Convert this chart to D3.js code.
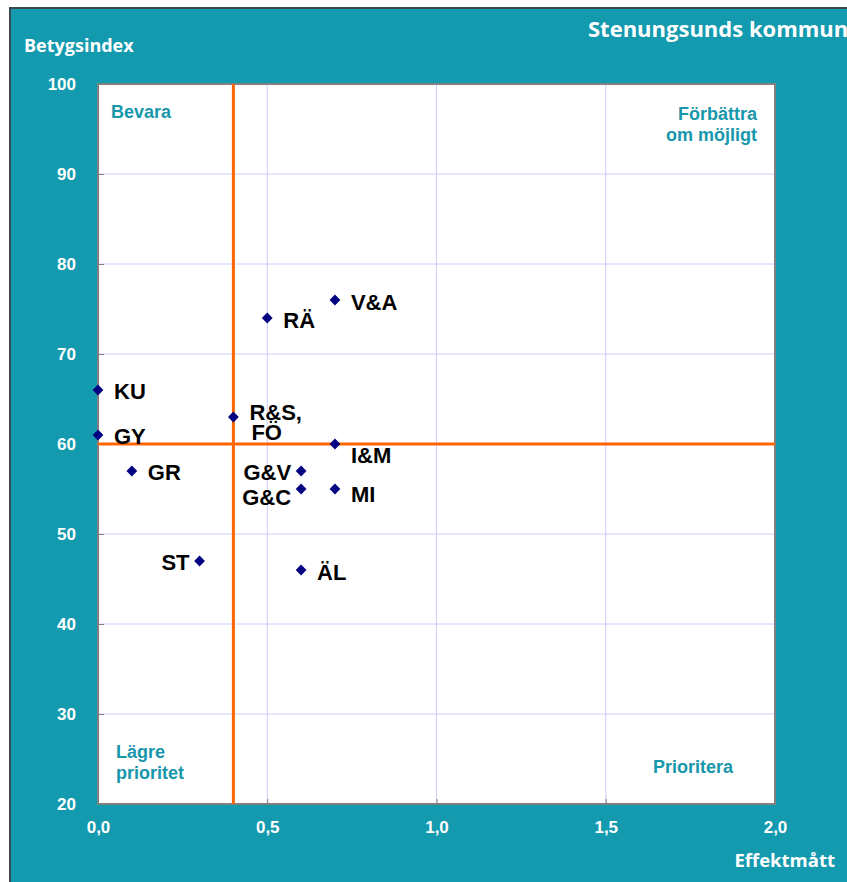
<!DOCTYPE html>
<html>
<head>
<meta charset="utf-8">
<script src="https://cdn.jsdelivr.net/npm/d3@7"></script>
<style>
  body { margin: 0; background: #fff; }
  svg { display: block; }
</style>
</head>
<body>
<div id="graph"></div>
<script>
// data
var labels  = ["KU", "GY", "GR", "ST", "R&S,|FÖ", "RÄ", "V&A", "I&M", "G&V", "G&C", "MI", "ÄL"];
var effekt  = [0.0, 0.0, 0.1, 0.3, 0.4, 0.5, 0.7, 0.7, 0.6, 0.6, 0.7, 0.6];
var betyg   = [66, 61, 57, 47, 63, 74, 76, 60, 57, 55, 55, 46];
// label placement relative to point: side (r/l) and vertical shift in px
var labelSide = ["r", "r", "r", "l", "r", "r", "r", "r", "l", "l", "r", "r"];
var labelDy   = [1, 1, 1, 1, -5, 2, 2, 11, 1, 8, 5, 2];

var xTicks = [0, 0.5, 1.0, 1.5, 2.0];
var yTicks = [20, 30, 40, 50, 60, 70, 80, 90, 100];
var splitX = 0.4, splitY = 60;

var w = 847, h = 882;
var teal = "#139aaf";
var plot = {left: 98, top: 84, right: 775, bottom: 804};

var svg = d3.select("div#graph").append("svg")
	.attr("width", w)
	.attr("height", h);

// outer teal panel
svg.append("rect")
	.attr("x", 10).attr("y", 8)
	.attr("width", w + 20).attr("height", h + 20)
	.attr("fill", teal)
	.style("stroke", "#3a4a4e")
	.style("stroke-width", "2px");

var x = d3.scaleLinear().domain([0, 2]).range([plot.left, plot.right]);
var y = d3.scaleLinear().domain([20, 100]).range([plot.bottom, plot.top]);

// plot background
svg.append("rect")
	.attr("x", plot.left).attr("y", plot.top)
	.attr("width", plot.right - plot.left).attr("height", plot.bottom - plot.top)
	.attr("fill", "#fff");

// grid lines
svg.append("g")
	.selectAll("line.hgrid")
	.data(yTicks.slice(1, -1)).enter().append("line")
	.attr("class", "hgrid")
	.attr("x1", plot.left).attr("x2", plot.right)
	.attr("y1", function(d) { return y(d); }).attr("y2", function(d) { return y(d); })
	.style("stroke", "#ccccff").style("stroke-width", "1px");
svg.append("g")
	.selectAll("line.vgrid")
	.data(xTicks.slice(1, -1)).enter().append("line")
	.attr("class", "vgrid")
	.attr("y1", plot.top).attr("y2", plot.bottom)
	.attr("x1", function(d) { return x(d); }).attr("x2", function(d) { return x(d); })
	.style("stroke", "#ccccff").style("stroke-width", "1px");

// axes (ticks inside, labels styled later)
var fmt = function(d) { return d3.format(".1f")(d).replace(".", ","); };
var yAxis = svg.append("g")
	.attr("transform", "translate(" + plot.left + ",0)")
	.call(d3.axisLeft(y).tickValues(yTicks).tickSize(-6).tickPadding(22));
var xAxis = svg.append("g")
	.attr("transform", "translate(0," + plot.bottom + ")")
	.call(d3.axisBottom(x).tickValues(xTicks).tickFormat(fmt).tickSize(-5).tickPadding(17));
[xAxis, yAxis].forEach(function(a) {
	a.select(".domain").remove();
	a.selectAll("line").style("stroke", "#808080");
	a.selectAll("text")
		.attr("fill", "#fff")
		.style("font-family", "'Liberation Sans', Arial, sans-serif")
		.style("font-weight", "bold")
		.style("font-size", "17px");
});
yAxis.selectAll("text").attr("dy", "0.35em");

// plot border
svg.append("rect")
	.attr("x", plot.left).attr("y", plot.top)
	.attr("width", plot.right - plot.left).attr("height", plot.bottom - plot.top)
	.attr("fill", "none")
	.style("stroke", "#808080").style("stroke-width", "2px");

// split lines
svg.append("line")
	.attr("x1", x(splitX)).attr("x2", x(splitX))
	.attr("y1", plot.top).attr("y2", plot.bottom)
	.style("stroke", "#ff6600").style("stroke-width", "3px");
svg.append("line")
	.attr("x1", plot.left).attr("x2", plot.right)
	.attr("y1", y(splitY)).attr("y2", y(splitY))
	.style("stroke", "#ff6600").style("stroke-width", "3px");

// quadrant labels
var quad = [
	{t: ["Bevara"], x: 111, y: 118, a: "start"},
	{t: ["Förbättra", "om möjligt"], x: 757, y: 120, a: "end"},
	{t: ["Lägre", "prioritet"], x: 116, y: 758, a: "start"},
	{t: ["Prioritera"], x: 733, y: 773, a: "end"}
];
quad.forEach(function(q) {
	var t = svg.append("text")
		.attr("x", q.x).attr("y", q.y)
		.attr("text-anchor", q.a)
		.attr("fill", "#1797ab")
		.style("font-family", "'Liberation Sans', Arial, sans-serif")
		.style("font-weight", "bold")
		.style("font-size", "18px");
	q.t.forEach(function(s, i) {
		t.append("tspan").attr("x", q.x).attr("dy", i ? 21 : 0).text(s);
	});
});

// points
var pts = labels.map(function(l, i) {
	return {label: l, x: effekt[i], y: betyg[i], side: labelSide[i], dy: labelDy[i]};
});
svg.selectAll("path.pt")
	.data(pts).enter().append("path")
	.attr("class", "pt")
	.attr("d", d3.symbol().type(d3.symbolSquare).size(58))
	.attr("transform", function(d) { return "translate(" + x(d.x) + "," + y(d.y) + ") rotate(45)"; })
	.attr("fill", "#000080");

// point labels, one text per line
pts.forEach(function(d) {
	var parts = d.label.split("|");
	var x0 = x(d.x) + (d.side == "r" ? 16 : -10);
	parts.forEach(function(s, i) {
		svg.append("text")
			.attr("class", "lbl")
			.attr("x", x0 + (i ? 2 : 0))
			.attr("y", y(d.y) + d.dy + i * 20)
			.attr("dy", "0.36em")
			.attr("text-anchor", d.side == "r" ? "start" : "end")
			.attr("fill", "#000")
			.style("font-family", "'Liberation Sans', Arial, sans-serif")
			.style("font-weight", "bold")
			.style("font-size", "22px")
			.text(s);
	});
});

// titles
svg.append("text")
	.attr("x", 24).attr("y", 52)
	.attr("fill", "#fff")
	.style("font-family", "'Open Sans', Lato, sans-serif")
	.style("font-weight", "bold")
	.style("font-size", "18px")
	.text("Betygsindex");
svg.append("text")
	.attr("x", 588).attr("y", 37)
	.attr("fill", "#fff")
	.style("font-family", "'Open Sans', Lato, sans-serif")
	.style("font-weight", "bold")
	.style("font-size", "22px")
	.text("Stenungsunds kommun");
svg.append("text")
	.attr("x", 835).attr("y", 867)
	.attr("text-anchor", "end")
	.attr("fill", "#fff")
	.style("font-family", "'Open Sans', Lato, sans-serif")
	.style("font-weight", "bold")
	.style("font-size", "18.5px")
	.text("Effektmått");
</script>
</body>
</html>
